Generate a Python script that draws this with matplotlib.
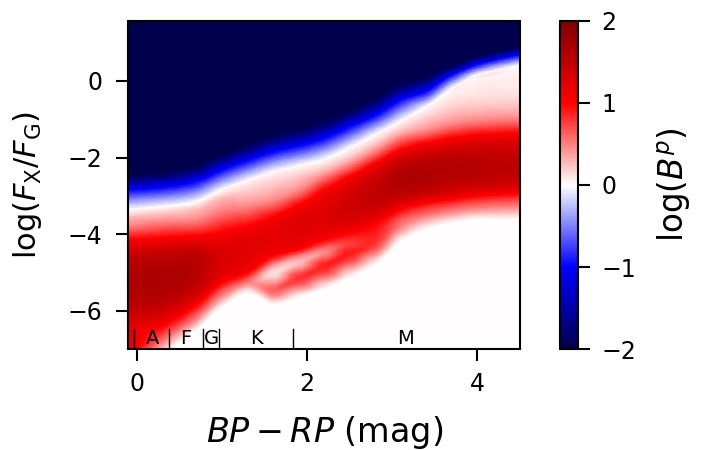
import numpy as np
import matplotlib
matplotlib.use('Agg')
from matplotlib import pyplot as plt
import matplotlib.tri as mtri

col_x = [-0.1, 0.3, 0.7, 1.0, 1.3, 1.6, 1.9, 2.2, 2.5, 2.8, 3.1, 3.4, 3.7, 4.0, 4.5]

# y positions (log Fx/FG) of each feature, per column
y_top      = [1.8] * 15
y_navy     = [-2.45, -2.38, -2.20, -1.90, -1.65, -1.40, -1.25, -1.05, -0.75, -0.45, -0.05, 0.12, 0.40, 0.66, 0.90]
y_blue     = [-2.85, -2.78, -2.62, -2.33, -2.08, -1.85, -1.70, -1.50, -1.20, -0.90, -0.50, -0.27, 0.15, 0.42, 0.68]
y_zero     = [-3.36, -3.28, -3.15, -2.84, -2.60, -2.38, -2.22, -2.05, -1.75, -1.40, -1.05, -0.68, -0.20, 0.15, 0.40]
y_zero2    = [-3.48, -3.40, -3.27, -2.96, -2.72, -2.50, -2.34, -2.17, -1.87, -1.52, -1.17, -0.80, -0.32, 0.03, 0.28]
y_pale     = [-3.55, -3.48, -3.35, -3.05, -2.88, -2.68, -2.48, -2.27, -1.98, -1.62, -1.27, -0.98, -0.68, -0.50, -0.45]
y_pink     = [-3.79, -3.70, -3.65, -3.40, -3.30, -3.15, -2.88, -2.50, -2.20, -1.85, -1.48, -1.32, -1.15, -1.06, -1.00]
y_red      = [-4.14, -4.10, -4.05, -3.95, -3.80, -3.55, -3.25, -2.85, -2.50, -2.15, -1.80, -1.62, -1.49, -1.41, -1.36]
y_core_top = [-4.66, -4.60, -4.45, -4.35, -4.10, -3.80, -3.52, -3.20, -2.90, -2.55, -2.20, -2.06, -1.97, -1.88, -1.80]
y_core_bot = [-5.89, -5.80, -5.40, -4.95, -4.60, -4.35, -4.10, -3.85, -3.60, -3.30, -2.95, -2.84, -2.66, -2.66, -2.60]
y_red_lo   = [-6.40, -6.30, -5.85, -5.27, -5.00, -4.57, -4.40, -4.14, -3.97, -3.75, -3.36, -3.19, -3.10, -3.01, -2.93]
y_shoulder = [-7.00, -6.65, -6.05, -5.45, -5.15, -4.80, -4.55, -4.30, -4.10, -3.92, -3.50, -3.30, -3.20, -3.12, -3.05]
y_notch    = [-7.20, -6.85, -6.20, -5.60, -5.27, -5.00, -4.72, -4.45, -4.25, -4.08, -3.62, -3.42, -3.30, -3.22, -3.16]
y_tongue   = [-7.40, -7.05, -6.35, -5.75, -5.40, -5.50, -5.15, -4.84, -4.50, -4.30, -3.80, -3.53, -3.40, -3.32, -3.27]
y_edge     = [-7.60, -7.30, -6.50, -5.90, -5.55, -5.85, -5.65, -5.44, -5.14, -4.80, -4.20, -3.86, -3.71, -3.62, -3.62]
y_flat1    = [-7.90, -7.60, -6.80, -6.20, -5.85, -6.15, -5.95, -5.74, -5.44, -5.10, -4.50, -4.16, -4.01, -3.92, -3.92]
y_flat2    = [-8.40, -8.10, -7.30, -6.70, -6.35, -6.65, -6.45, -6.24, -5.94, -5.60, -5.00, -4.66, -4.51, -4.42, -4.42]
y_bottom   = [-9.0] * 15

# log(B^p) at each feature, per column
v_top      = [-3.0] * 15
v_navy     = [-2.0] * 15
v_blue     = [-1.0] * 15
v_zero     = [0.0] * 15
v_zero2    = [0.15, 0.15, 0.15, 0.12, 0.1, 0.1, 0.1, 0.1, 0.1, 0.1, 0.1, 0.08, 0.05, 0.04, 0.04]
v_pale     = [0.25, 0.25, 0.25, 0.25, 0.2, 0.2, 0.2, 0.2, 0.2, 0.2, 0.2, 0.2, 0.18, 0.15, 0.15]
v_pink     = [0.5] * 15
v_red      = [1.0] * 15
v_core     = [1.5, 1.5, 1.45, 1.25, 1.2, 1.15, 1.2, 1.2, 1.3, 1.4, 1.5, 1.5, 1.5, 1.45, 1.4]
v_red_lo   = [1.25, 1.1, 1.0, 1.0, 1.0, 1.0, 1.0, 1.0, 1.0, 1.0, 1.0, 1.0, 1.0, 1.0, 1.0]
v_shoulder = [1.2, 0.7, 0.7, 0.7, 0.7, 0.45, 0.55, 0.7, 0.85, 0.9, 0.8, 0.8, 0.8, 0.8, 0.8]
v_notch    = [1.1, 0.45, 0.5, 0.5, 0.5, 0.12, 0.25, 0.45, 0.75, 0.85, 0.65, 0.65, 0.65, 0.65, 0.65]
v_tongue   = [1.0, 0.2, 0.25, 0.25, 0.25, 0.6, 0.8, 0.88, 0.9, 0.75, 0.5, 0.5, 0.5, 0.5, 0.5]
v_edge     = [0.9] + [0.01] * 14
v_flat1    = [0.8] + [0.01] * 14
v_flat2    = [0.7] + [0.01] * 14
v_bottom   = [0.6] + [0.01] * 14

# spectral type boundaries and labels
sp_edges = [-0.03, 0.38, 0.78, 0.97, 1.84]
sp_names = ['A', 'F', 'G', 'K', 'M']
sp_label_x = [0.18, 0.58, 0.88, 1.41, 3.16]

Y = np.array([y_top, y_navy, y_blue, y_zero, y_zero2, y_pale, y_pink, y_red,
              y_core_top, y_core_bot, y_red_lo, y_shoulder, y_notch, y_tongue,
              y_edge, y_flat1, y_flat2, y_bottom])
C = np.array([v_top, v_navy, v_blue, v_zero, v_zero2, v_pale, v_pink, v_red,
              v_core, v_core, v_red_lo, v_shoulder, v_notch, v_tongue,
              v_edge, v_flat1, v_flat2, v_bottom])
X = np.tile(col_x, (Y.shape[0], 1))

# triangles of the curvilinear grid, smoothed by matplotlib's cubic refiner
ny, nx = Y.shape
idx = np.arange(ny * nx).reshape(ny, nx)
tris = []
for i in range(ny - 1):
    for j in range(nx - 1):
        a, b, c, d = idx[i, j], idx[i, j + 1], idx[i + 1, j], idx[i + 1, j + 1]
        tris.append([a, d, b])
        tris.append([a, c, d])
triang = mtri.Triangulation(X.ravel(), Y.ravel(), np.array(tris))
interp = mtri.CubicTriInterpolator(triang, C.ravel(), kind='geom')
refiner = mtri.UniformTriRefiner(triang)
tri_f, z_f = refiner.refine_field(C.ravel(), triinterpolator=interp, subdiv=4)

# keep the sign of each side of the zero line (removes cubic ringing)
below = tri_f.y < np.interp(tri_f.x, col_x, y_zero)
z_f = np.where(below, np.maximum(z_f, 0.0), np.minimum(z_f, 0.0))

fig = plt.figure(figsize=(7.05, 4.5), dpi=100)
ax = fig.add_axes([128.3 / 705, 100.7 / 450, 391.7 / 705, 328.6 / 450])
cax = fig.add_axes([560 / 705, 100.7 / 450, 18.3 / 705, 328.6 / 450])

mesh = ax.tripcolor(tri_f, z_f, shading='gouraud', cmap='seismic', vmin=-2, vmax=2,
                    rasterized=True)

for xe in sp_edges:
    ax.plot([xe, xe], [-7, -6.47], color='k', lw=1.0)
for name, xl in zip(sp_names, sp_label_x):
    ax.text(xl, -6.85, name, ha='center', va='baseline', fontsize=14)

ax.set_xlim(-0.1, 4.5)
ax.set_ylim(-7, 1.57)
ax.set_xticks([0, 2, 4])
ax.set_yticks([-6, -4, -2, 0])
ax.tick_params(labelsize=17, length=8.5, width=1.5)
ax.tick_params(axis='x', pad=8)
ax.tick_params(axis='y', pad=10)
for sp in ax.spines.values():
    sp.set_linewidth(1.5)
ax.set_xlabel(r'$BP-RP$ (mag)', fontsize=24, labelpad=13)
ax.set_ylabel(r'log($F_{\rm X}/F_{\rm G}$)', fontsize=22, labelpad=17)

cb = fig.colorbar(mesh, cax=cax, ticks=[-2, -1, 0, 1, 2])
cb.outline.set_linewidth(1.5)
cax.tick_params(labelsize=17, length=8.5, width=1.5, pad=8)
cb.set_label(r'log($B^p$)', fontsize=23.5, labelpad=14)

fig.savefig('out.png', dpi=100)
